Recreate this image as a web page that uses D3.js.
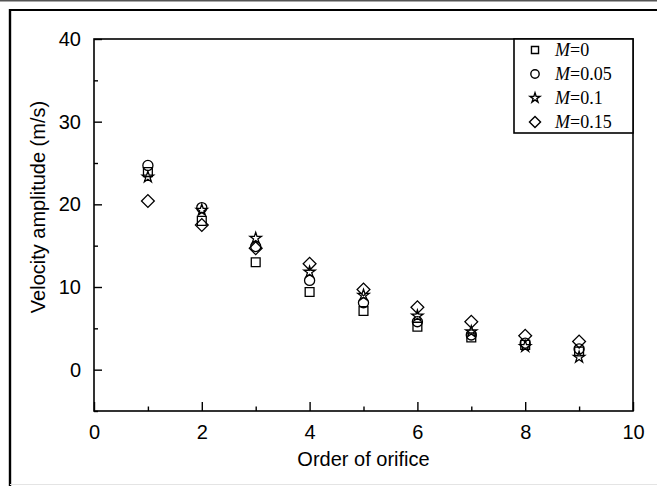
<!DOCTYPE html>
<html>
<head>
<meta charset="utf-8">
<script src="https://cdn.jsdelivr.net/npm/d3@7"></script>
<style>
  html, body { margin: 0; padding: 0; background: #fff; }
  svg { display: block; }
</style>
</head>
<body>
<svg id="chart" width="657" height="486"></svg>
<script>
// Orifice order (x) and velocity amplitude (m/s) for each Mach number M
const orifices = [1, 2, 3, 4, 5, 6, 7, 8, 9];
const seriesLabels = ["0", "0.05", "0.1", "0.15"];
const velM0    = [23.9, 18.0, 13.0, 9.4, 7.1, 5.2, 3.9, 3.0, 2.2];
const velM005  = [24.7, 19.6, 14.9, 10.8, 8.1, 5.8, 4.2, 3.2, 2.5];
const velM01   = [23.3, 19.3, 15.9, 11.8, 9.0, 6.5, 4.6, 2.8, 1.5];
const velM015  = [20.4, 17.5, 14.7, 12.8, 9.7, 7.55, 5.8, 4.1, 3.4];
const xTicks = [0, 2, 4, 6, 8, 10];
const yTicks = [0, 10, 20, 30, 40];

const seriesValues = [velM0, velM005, velM01, velM015];

const svg = d3.select("#chart");

// Outer frame lines
svg.append("line").attr("x1", 0).attr("x2", 657).attr("y1", 0.8).attr("y2", 0.8)
  .attr("stroke", "#555").attr("stroke-width", 1.6);
svg.append("line").attr("x1", 9).attr("x2", 657).attr("y1", 10).attr("y2", 10)
  .attr("stroke", "#000").attr("stroke-width", 2);
svg.append("line").attr("x1", 10).attr("x2", 10).attr("y1", 9).attr("y2", 486)
  .attr("stroke", "#000").attr("stroke-width", 2.4);
svg.append("line").attr("x1", 10).attr("x2", 657).attr("y1", 484.5).attr("y2", 484.5)
  .attr("stroke", "#e4e4e4").attr("stroke-width", 1);

const plot = { left: 94, right: 633, top: 39, bottom: 411 };

const x = d3.scaleLinear().domain([0, 10]).range([plot.left, plot.right]);
const y = d3.scaleLinear().domain([-5, 40]).range([plot.bottom, plot.top]);

const font = "'Liberation Sans', Arial, sans-serif";
const serif = "'Liberation Serif', 'Times New Roman', serif";
const fs = 20;

// Minor ticks (inward)
const xMinor = d3.range(1, 10, 2);
const yMinor = [-5, 5, 15, 25, 35];

// X axis with inward ticks
const xAxis = d3.axisBottom(x).tickValues(xTicks).tickSizeInner(-9).tickSizeOuter(0).tickPadding(14)
  .tickFormat(d3.format("d"));
const gx = svg.append("g").attr("transform", `translate(0,${plot.bottom})`).call(xAxis);
gx.selectAll("text").attr("font-family", font).attr("font-size", fs).attr("fill", "#000");
gx.selectAll("line").attr("stroke", "#000").attr("stroke-width", 1.4);
gx.select(".domain").remove();
svg.append("g").attr("transform", `translate(0,${plot.bottom})`)
  .call(d3.axisBottom(x).tickValues(xMinor).tickSizeInner(-4.5).tickSizeOuter(0).tickFormat(""))
  .call(g => g.select(".domain").remove())
  .selectAll("line").attr("stroke", "#000").attr("stroke-width", 1.4);

// Y axis with inward ticks
const yAxis = d3.axisLeft(y).tickValues(yTicks).tickSizeInner(-8).tickSizeOuter(0).tickPadding(13)
  .tickFormat(d3.format("d"));
const gy = svg.append("g").attr("transform", `translate(${plot.left},0)`).call(yAxis);
gy.selectAll("text").attr("font-family", font).attr("font-size", fs).attr("fill", "#000");
gy.selectAll("line").attr("stroke", "#000").attr("stroke-width", 1.4);
gy.select(".domain").remove();
svg.append("g").attr("transform", `translate(${plot.left},0)`)
  .call(d3.axisLeft(y).tickValues(yMinor).tickSizeInner(-4).tickSizeOuter(0).tickFormat(""))
  .call(g => g.select(".domain").remove())
  .selectAll("line").attr("stroke", "#000").attr("stroke-width", 1.4);

// Plot border
svg.append("rect")
  .attr("x", plot.left).attr("y", plot.top)
  .attr("width", plot.right - plot.left).attr("height", plot.bottom - plot.top)
  .attr("fill", "none").attr("stroke", "#000").attr("stroke-width", 1.6);

// Axis titles
svg.append("text")
  .attr("x", (plot.left + plot.right) / 2).attr("y", 466)
  .attr("text-anchor", "middle")
  .attr("font-family", font).attr("font-size", fs)
  .text("Order of orifice");

svg.append("text")
  .attr("transform", `translate(45,${(plot.top + plot.bottom) / 2 - 18}) rotate(-90)`)
  .attr("text-anchor", "middle")
  .attr("font-family", font).attr("font-size", fs)
  .text("Velocity amplitude (m/s)");

// Marker shapes for each series
const symbolDefs = [
  { type: d3.symbolSquare, size: 78, rot: 0, legendSize: 50 },
  { type: d3.symbolCircle, size: 80, rot: 0, legendSize: 55 },
  { type: d3.symbolStar, size: 40, rot: 0, legendSize: 30 },
  { type: d3.symbolSquare, size: 82, rot: 45, legendSize: 62 }
];

seriesValues.forEach((vals, si) => {
  const def = symbolDefs[si];
  const path = d3.symbol().type(def.type).size(def.size)();
  svg.append("g").selectAll("path")
    .data(orifices.map((o, i) => ({ o, v: vals[i] })))
    .join("path")
    .attr("d", path)
    .attr("transform", d => `translate(${x(d.o)},${y(d.v)}) rotate(${def.rot})`)
    .attr("fill", "none")
    .attr("stroke", "#000")
    .attr("stroke-width", 1.3);
});

// Legend (shares top and right edges with the plot border)
const legend = { left: 514, top: plot.top, right: plot.right, bottom: 133 };
svg.append("rect")
  .attr("x", legend.left).attr("y", legend.top)
  .attr("width", legend.right - legend.left).attr("height", legend.bottom - legend.top)
  .attr("fill", "#fff").attr("stroke", "#000").attr("stroke-width", 1.6);

seriesLabels.forEach((lab, i) => {
  const def = symbolDefs[i];
  const cy = 50 + i * 24;
  svg.append("path")
    .attr("d", d3.symbol().type(def.type).size(def.legendSize)())
    .attr("transform", `translate(535,${cy}) rotate(${def.rot})`)
    .attr("fill", "none").attr("stroke", "#000").attr("stroke-width", 1.4);
  const t = svg.append("text")
    .attr("x", 555).attr("y", cy + 6)
    .attr("font-family", serif).attr("font-size", 18);
  t.append("tspan").attr("font-style", "italic").text("M");
  t.append("tspan").text("=" + lab);
});
</script>
</body>
</html>
